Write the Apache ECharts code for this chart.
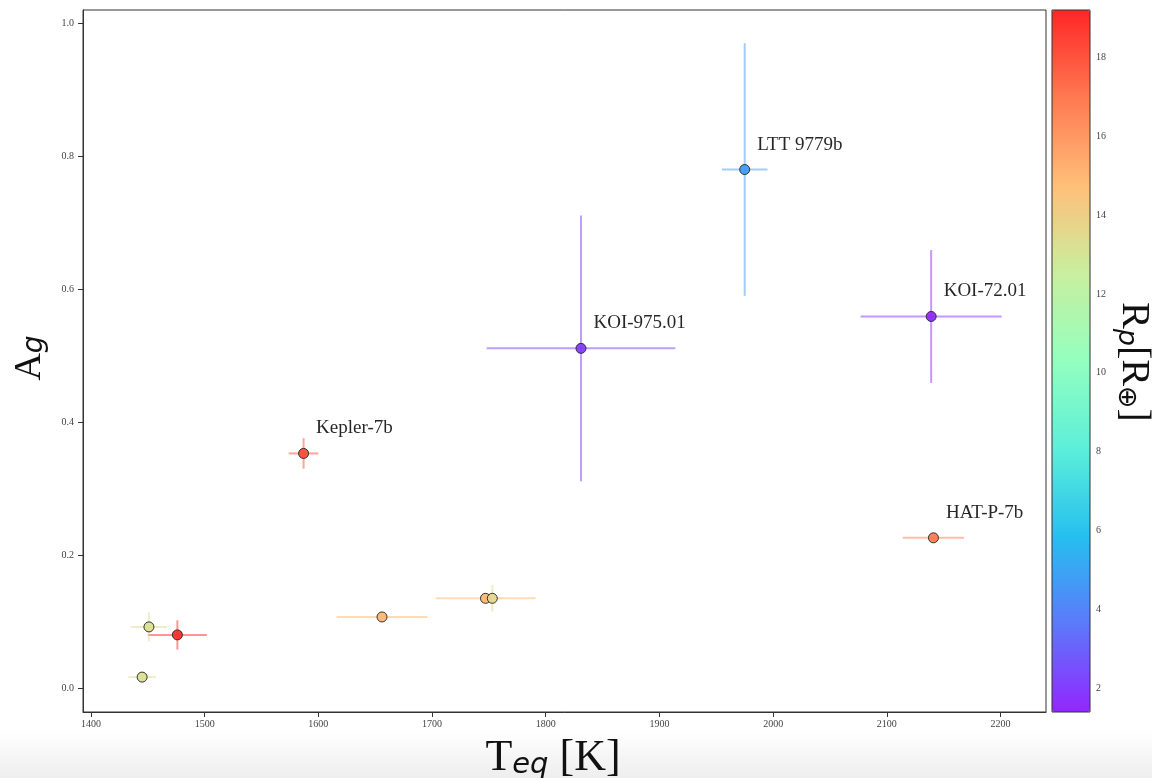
<!DOCTYPE html>
<html>
<head>
<meta charset="utf-8">
<script src="https://cdn.jsdelivr.net/npm/echarts@6/dist/echarts.min.js"></script>
<style>html,body{margin:0;padding:0;background:#fff}#c{width:1152px;height:778px}</style>
</head>
<body>
<div id="c"></div>
<script>
// ---- data ----
const names   = ['LTT 9779b', 'KOI-975.01', 'KOI-72.01', 'HAT-P-7b', 'Kepler-7b', '', '', '', '', '', ''];
const teq     = [1975, 1831, 2139, 2141, 1587, 1476, 1451, 1445, 1656, 1747, 1753];
const teqErr  = [20, 83, 62, 27, 13, 26, 16, 12, 40, 44, 8];
const ag      = [0.780, 0.511, 0.559, 0.226, 0.353, 0.080, 0.092, 0.0165, 0.107, 0.135, 0.135];
const agErr   = [0.19, 0.20, 0.10, 0.006, 0.023, 0.022, 0.022, 0.004, 0.006, 0.006, 0.02];
const rp      = [4.7, 2.0, 1.5, 16.9, 18.2, 19.0, 13.3, 13.3, 15.0, 15.0, 13.6];
const xTicks  = [1400, 1500, 1600, 1700, 1800, 1900, 2000, 2100, 2200];
const yTicks  = [0.0, 0.2, 0.4, 0.6, 0.8, 1.0];
const cTicks  = [2, 4, 6, 8, 10, 12, 14, 16, 18];
const rpMin = 1.4, rpMax = 19.2;

// matplotlib "rainbow" colormap stops, slightly faded (alpha ~0.85 over white)
const rainbow = ['#9326ff', '#5c79fb', '#26bfef', '#5cefda', '#93ffbf', '#c9ef9f', '#ffbf79', '#ff7951', '#ff2626'];

const rows = teq.map((t, i) => [t, ag[i], teqErr[i], agErr[i], rp[i], names[i]]);

const serif = 'Liberation Serif';
const chart = echarts.init(document.getElementById('c'), null, {renderer: 'canvas'});

chart.setOption({
  animation: false,
  backgroundColor: '#ffffff',
  grid: [
    {left: 83, right: 106, top: 10, bottom: 66, show: true, borderColor: '#333', borderWidth: 1, backgroundColor: 'transparent'},
    {left: 1052, width: 38, top: 10, bottom: 66, show: true, borderColor: '#333', borderWidth: 1, backgroundColor: 'transparent', z: 10}
  ],
  xAxis: [
    {type: 'value', gridIndex: 0, min: 1393, max: 2240,
      axisLine: {show: true, onZero: false, lineStyle: {color: '#333'}},
      axisTick: {show: true, length: 5, customValues: xTicks, lineStyle: {color: '#333'}},
      axisLabel: {customValues: xTicks, fontFamily: serif, fontSize: 10, color: '#444', margin: 7,
        formatter: v => String(Math.round(v))},
      splitLine: {show: false}},
    {type: 'value', gridIndex: 1, min: 0, max: 1, show: false}
  ],
  yAxis: [
    {type: 'value', gridIndex: 0, min: -0.036, max: 1.02,
      axisLine: {show: true, onZero: false, lineStyle: {color: '#333'}},
      axisTick: {show: true, length: 5, customValues: yTicks, lineStyle: {color: '#333'}},
      axisLabel: {customValues: yTicks, fontFamily: serif, fontSize: 10, color: '#444', margin: 9,
        formatter: v => v.toFixed(1)},
      splitLine: {show: false}},
    {type: 'value', gridIndex: 1, position: 'right', min: rpMin, max: rpMax,
      axisLine: {show: false},
      axisTick: {show: true, length: 4, customValues: cTicks, lineStyle: {color: '#333'}},
      axisLabel: {customValues: cTicks, fontFamily: serif, fontSize: 10, color: '#444', margin: 6},
      splitLine: {show: false}}
  ],
  visualMap: {
    type: 'continuous', min: rpMin, max: rpMax, dimension: 4, seriesIndex: [0, 1],
    calculable: false, hoverLink: false, realtime: false,
    left: 1052, top: 10, itemWidth: 38, itemHeight: 702, padding: 0,
    text: null, showLabel: false,
    inRange: {color: rainbow},
    z: 1
  },
  series: [
    {
      type: 'custom', xAxisIndex: 0, yAxisIndex: 0, data: rows, z: 2,
      renderItem: function (params, api) {
        const x = api.value(0), y = api.value(1), ex = api.value(2), ey = api.value(3);
        const c = api.visual('color');
        const a = api.coord([x - ex, y]), b = api.coord([x + ex, y]);
        const d = api.coord([x, y - ey]), e = api.coord([x, y + ey]);
        const st = {stroke: c, lineWidth: 2, opacity: 0.5};
        return {type: 'group', children: [
          {type: 'line', shape: {x1: a[0], y1: a[1], x2: b[0], y2: b[1]}, style: st},
          {type: 'line', shape: {x1: d[0], y1: d[1], x2: e[0], y2: e[1]}, style: st}
        ]};
      }
    },
    {
      type: 'scatter', xAxisIndex: 0, yAxisIndex: 0, data: rows, z: 3,
      symbolSize: 10,
      itemStyle: {borderColor: '#2a2a2a', borderWidth: 1, opacity: 0.95},
      label: {show: true, position: 'right', distance: 7, offset: [0, -25],
        formatter: p => p.value[5], fontFamily: serif, fontSize: 19, color: '#1a1a1a'},
      emphasis: {disabled: true}
    }
  ],
  graphic: [
    {type: 'rect', left: 0, top: 730, shape: {width: 1152, height: 48}, z: -10, silent: true,
      style: {fill: new echarts.graphic.LinearGradient(0, 0, 0, 1, [{offset: 0, color: '#ffffff'}, {offset: 1, color: '#eeeeee'}])}},
    {type: 'text', x: 30, y: 358, rotation: Math.PI / 2, z: 20,
      style: {text: '{a|A}{g|g}', align: 'center', verticalAlign: 'middle',
        rich: {a: {fontFamily: serif, fontSize: 38, fill: '#111'},
               g: {fontFamily: 'DejaVu Sans', fontStyle: 'italic', fontSize: 28, fill: '#111', padding: [10, 0, 0, 0]}}}},
    {type: 'text', x: 553, y: 758, z: 20,
      style: {text: '{t|T}{s|eq}{t| [K]}', align: 'center', verticalAlign: 'middle',
        rich: {t: {fontFamily: serif, fontSize: 44, fill: '#111'},
               s: {fontFamily: 'DejaVu Sans', fontStyle: 'italic', fontSize: 29, fill: '#111', padding: [14, 0, 0, 0]}}}},
    {type: 'text', x: 1133, y: 362, rotation: -Math.PI / 2, z: 20,
      style: {text: '{t|R}{s|p}{t|[R}{s|⊕}{t|]}', align: 'center', verticalAlign: 'middle',
        rich: {t: {fontFamily: serif, fontSize: 40, fill: '#111'},
               s: {fontFamily: 'DejaVu Sans', fontStyle: 'italic', fontSize: 27, fill: '#111', padding: [14, 0, 0, 0]}}}}
  ]
});
</script>
</body>
</html>
